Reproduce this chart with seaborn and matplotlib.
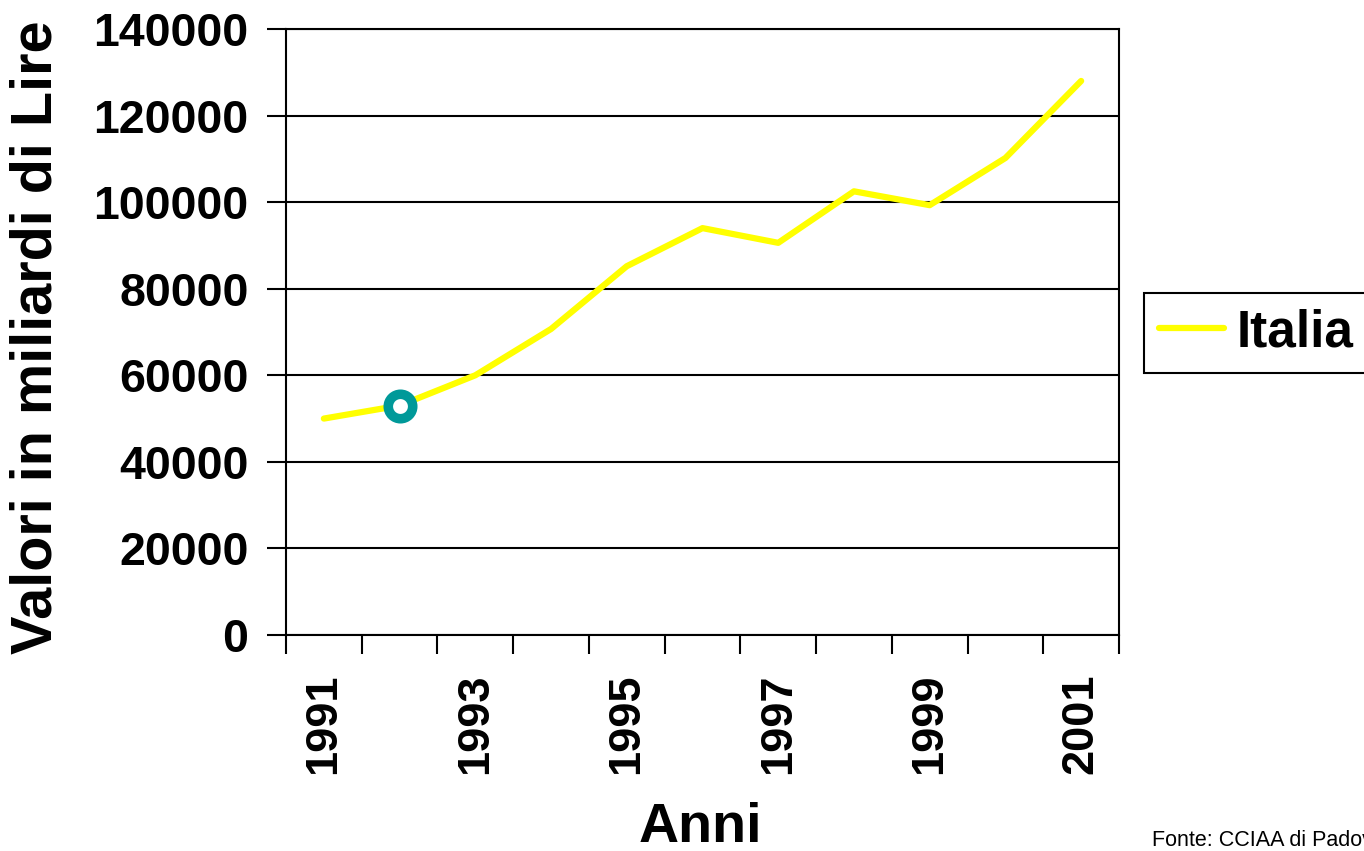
import matplotlib
matplotlib.use("Agg")
import matplotlib.pyplot as plt
import seaborn as sns
import pandas as pd
import numpy as np

years = [1991, 1992, 1993, 1994, 1995, 1996, 1997, 1998, 1999, 2000, 2001]
values = [50000, 53000, 60000, 70700, 85200, 94000, 90600, 102500, 99300, 110200, 128000]
label_years = [1991, 1993, 1995, 1997, 1999, 2001]
highlight_year = [1992]
highlight_value = [53000]
series_name = "Italia"

sns.set_theme(style="white")
plt.rcParams['font.family'] = ['Liberation Sans', 'DejaVu Sans']
plt.rcParams['font.weight'] = 'bold'
plt.rcParams['text.color'] = 'black'
plt.rcParams['axes.labelcolor'] = 'black'
plt.rcParams['xtick.color'] = 'black'
plt.rcParams['ytick.color'] = 'black'

df = pd.DataFrame({"Anno": years, "Valore": values, "Serie": series_name})

fig = plt.figure(figsize=(13.64, 8.51), dpi=100)
ax = fig.add_axes([286/1364, 1-635/851, (1119-286)/1364, (635-29)/851])

sns.lineplot(data=df, x="Anno", y="Valore", hue="Serie", palette=["#FFFF00"],
             linewidth=4.5, ax=ax, legend=True)
ax.plot(highlight_year, highlight_value, marker="o", markersize=17.6,
        markeredgewidth=6.9, markeredgecolor="#009999", markerfacecolor="white",
        linestyle="none", zorder=5)

ax.set_xlim(years[0] - 0.5, years[-1] + 0.5)
ax.set_ylim(0, 140000)
ax.set_yticks(np.arange(0, 140001, 20000))
ax.set_yticklabels([str(v) for v in range(0, 140001, 20000)], fontsize=33.5, fontweight='bold')
ax.yaxis.grid(True, color="black", linewidth=1.5)
ax.set_axisbelow(True)

# tick marks between categories, labels at category centres
ax.set_xticks([y - 0.5 for y in years] + [years[-1] + 0.5])
ax.set_xticklabels([])
ax.set_xticks(label_years, minor=True)
ax.set_xticklabels([str(y) for y in label_years], minor=True, rotation=90,
                   fontsize=32.5, fontweight='bold')
ax.tick_params(axis='x', which='major', length=14, width=1.5, color='black', direction='out', bottom=True)
ax.tick_params(axis='x', which='minor', length=0, pad=28)
ax.tick_params(axis='y', length=14, width=1.5, color='black', direction='out', left=True, pad=13)

for s in ax.spines.values():
    s.set_color("black")
    s.set_linewidth(1.5)

ax.set_xlabel("Anni", fontsize=40, fontweight='bold')
ax.xaxis.set_label_coords(0.497, -0.318)
ax.xaxis.label.set_va('center')
ax.set_ylabel("Valori in miliardi di Lire", fontsize=41.5, fontweight='bold')
ax.yaxis.set_label_coords(-0.30, 0.492)
ax.yaxis.label.set_va('center')

leg = ax.legend(loc="upper left", bbox_to_anchor=(1144/1364, 1-293/851),
                bbox_transform=fig.transFigure, borderaxespad=0, fancybox=False,
                edgecolor="black", framealpha=1, fontsize=37, handlelength=1.25,
                handletextpad=0.25, borderpad=0.3, title=None)
leg.get_frame().set_linewidth(1.5)
for t in leg.get_texts():
    t.set_fontweight('bold')
    t.set_color('black')
for h in leg.get_lines():
    h.set_linewidth(4.5)

fig.text(1152/1364, 1-840/851, "Fonte: CCIAA di Padova", fontsize=15.5,
         fontweight='normal', va='center', ha='left', color='black')

fig.savefig("out.png", dpi=100)
